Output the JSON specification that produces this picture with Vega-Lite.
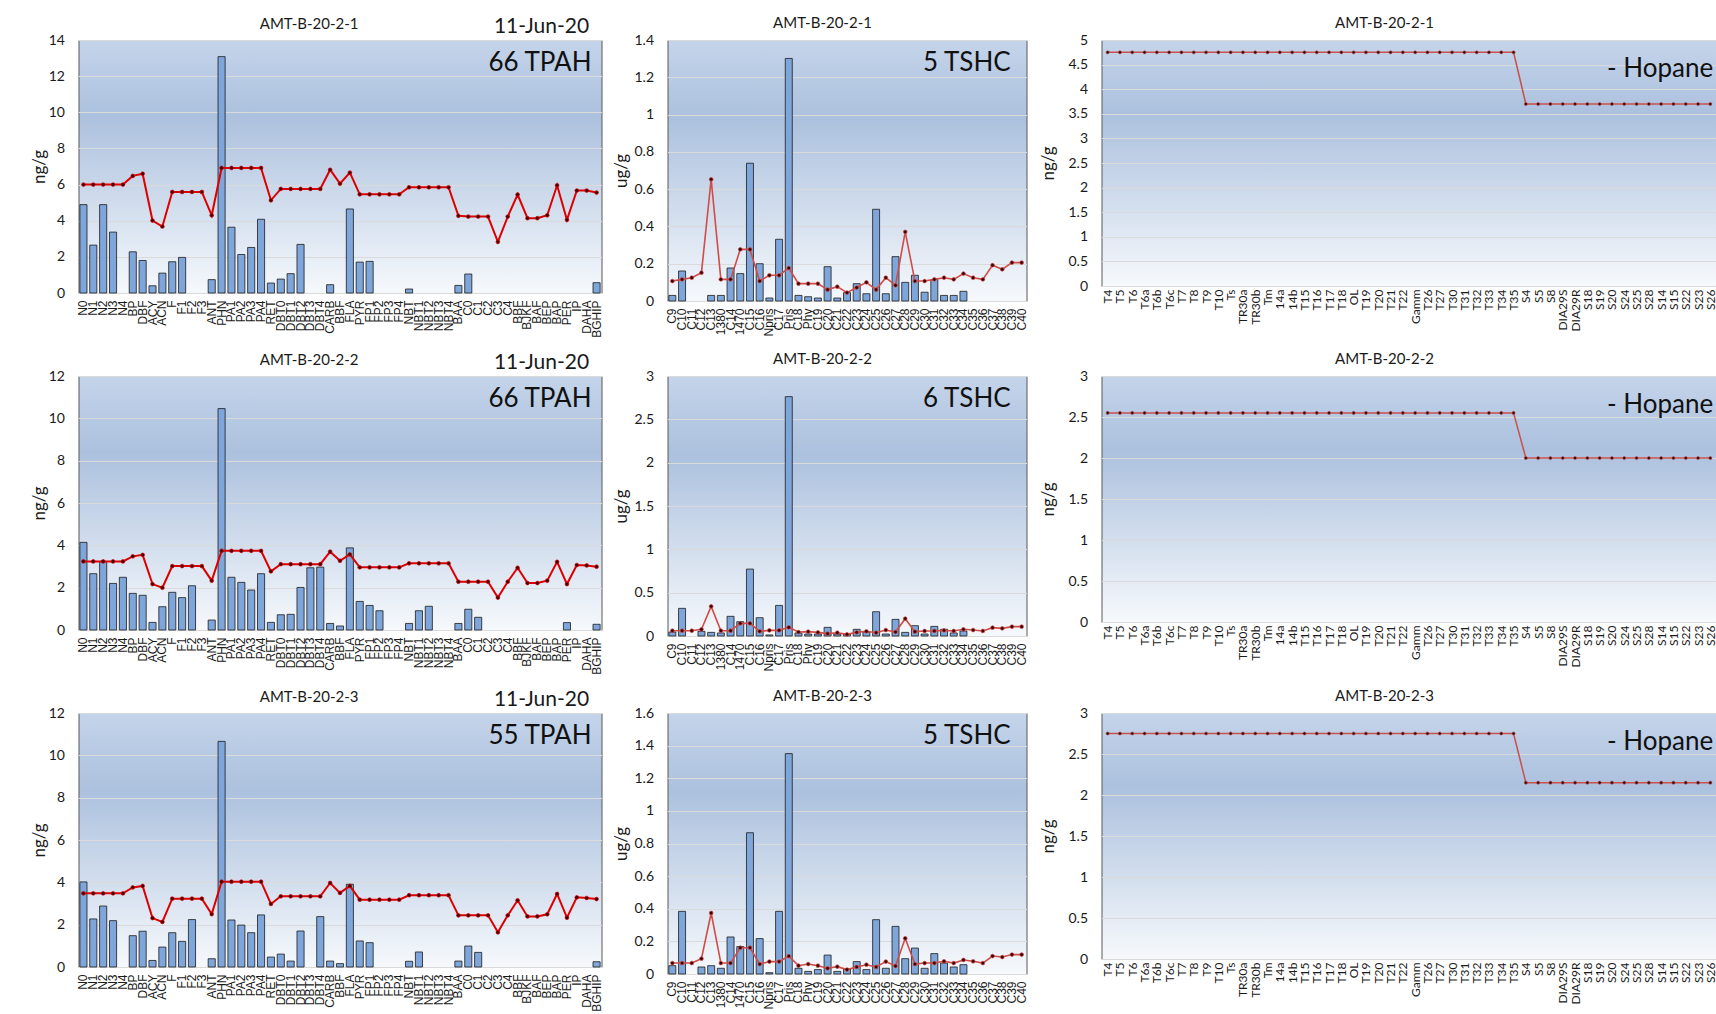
{
  "$schema": "https://vega.github.io/schema/vega-lite/v6.json",
  "background": "white",
  "padding": {"left": 29.5, "top": 15, "right": 0, "bottom": 0},
  "config": {
    "view": {"fill": {"gradient": "linear", "x1": 0, "y1": 0, "x2": 0, "y2": 1, "stops": [{"offset": 0, "color": "#c4d4ea"}, {"offset": 0.3, "color": "#acc1de"}, {"offset": 1, "color": "#f6f9fc"}]}, "stroke": "#595959", "strokeWidth": 1},
    "axis": {"domain": false, "ticks": false, "labelColor": "#1a1a1a", "titleColor": "#1a1a1a", "labelOverlap": false, "labelBound": false, "labelFlush": false, "gridColor": "#dadada"},
    "axisY": {"labelFont": "Lato", "labelFontSize": 14, "labelPadding": 14, "titleFont": "Lato", "titleFontSize": 17, "titleFontWeight": "normal", "grid": true, "format": "~g", "labelOverlap": false},
    "axisX": {"labelAngle": -90, "labelFont": "Liberation Sans", "labelFontSize": 12, "labelPadding": 7, "grid": false, "labelOverlap": false},
    "title": {"font": "Lato", "fontSize": 15, "fontWeight": "normal", "color": "#1a1a1a", "offset": 1.8, "anchor": "middle", "baseline": "alphabetic", "dx": -24.5}
  },
  "datasets": {
    "pah": [
      {"cat": "N0", "b1": 4.89, "l1": 6.0, "b2": 4.14, "l2": 3.24, "b3": 4.02, "l3": 3.48},
      {"cat": "N1", "b1": 2.65, "l1": 6.0, "b2": 2.66, "l2": 3.24, "b3": 2.27, "l3": 3.48},
      {"cat": "N2", "b1": 4.89, "l1": 6.0, "b2": 3.24, "l2": 3.24, "b3": 2.88, "l3": 3.48},
      {"cat": "N3", "b1": 3.37, "l1": 6.0, "b2": 2.2, "l2": 3.24, "b3": 2.19, "l3": 3.48},
      {"cat": "N4", "l1": 6.0, "b2": 2.49, "l2": 3.24, "l3": 3.48},
      {"cat": "BP", "b1": 2.28, "l1": 6.48, "b2": 1.73, "l2": 3.48, "b3": 1.48, "l3": 3.76},
      {"cat": "DBF", "b1": 1.8, "l1": 6.6, "b2": 1.64, "l2": 3.55, "b3": 1.69, "l3": 3.83},
      {"cat": "ACY", "b1": 0.4, "l1": 4.01, "b2": 0.36, "l2": 2.17, "b3": 0.31, "l3": 2.31},
      {"cat": "ACN", "b1": 1.1, "l1": 3.68, "b2": 1.1, "l2": 2.0, "b3": 0.94, "l3": 2.13},
      {"cat": "F", "b1": 1.73, "l1": 5.59, "b2": 1.78, "l2": 3.02, "b3": 1.62, "l3": 3.23},
      {"cat": "F1", "b1": 1.97, "l1": 5.59, "b2": 1.53, "l2": 3.02, "b3": 1.21, "l3": 3.23},
      {"cat": "F2", "l1": 5.59, "b2": 2.09, "l2": 3.02, "b3": 2.24, "l3": 3.23},
      {"cat": "F3", "l1": 5.59, "l2": 3.02, "l3": 3.23},
      {"cat": "ANT", "b1": 0.74, "l1": 4.3, "b2": 0.47, "l2": 2.33, "b3": 0.39, "l3": 2.5},
      {"cat": "PHN", "b1": 13.08, "l1": 6.92, "b2": 10.46, "l2": 3.74, "b3": 10.66, "l3": 4.03},
      {"cat": "PA1", "b1": 3.64, "l1": 6.92, "b2": 2.49, "l2": 3.74, "b3": 2.22, "l3": 4.03},
      {"cat": "PA2", "b1": 2.13, "l1": 6.92, "b2": 2.25, "l2": 3.74, "b3": 1.98, "l3": 4.03},
      {"cat": "PA3", "b1": 2.52, "l1": 6.92, "b2": 1.89, "l2": 3.74, "b3": 1.62, "l3": 4.03},
      {"cat": "PA4", "b1": 4.08, "l1": 6.92, "b2": 2.66, "l2": 3.74, "b3": 2.46, "l3": 4.03},
      {"cat": "RET", "b1": 0.55, "l1": 5.13, "b2": 0.36, "l2": 2.77, "b3": 0.47, "l3": 2.98},
      {"cat": "DBT0", "b1": 0.77, "l1": 5.76, "b2": 0.72, "l2": 3.11, "b3": 0.61, "l3": 3.34},
      {"cat": "DBT1", "b1": 1.07, "l1": 5.76, "b2": 0.74, "l2": 3.11, "b3": 0.28, "l3": 3.34},
      {"cat": "DBT2", "b1": 2.69, "l1": 5.76, "b2": 2.01, "l2": 3.11, "b3": 1.7, "l3": 3.34},
      {"cat": "DBT3", "l1": 5.76, "b2": 2.94, "l2": 3.11, "l3": 3.34},
      {"cat": "DBT4", "l1": 5.76, "b2": 2.97, "l2": 3.11, "b3": 2.38, "l3": 3.34},
      {"cat": "CARB", "b1": 0.46, "l1": 6.82, "b2": 0.31, "l2": 3.7, "b3": 0.28, "l3": 3.97},
      {"cat": "BBF", "l1": 6.05, "b2": 0.19, "l2": 3.27, "b3": 0.16, "l3": 3.5},
      {"cat": "FLA", "b1": 4.65, "l1": 6.66, "b2": 3.88, "l2": 3.57, "b3": 3.91, "l3": 3.83},
      {"cat": "PYR", "b1": 1.71, "l1": 5.46, "b2": 1.35, "l2": 2.96, "b3": 1.23, "l3": 3.18},
      {"cat": "FP1", "b1": 1.75, "l1": 5.46, "b2": 1.16, "l2": 2.96, "b3": 1.15, "l3": 3.18},
      {"cat": "FP2", "l1": 5.46, "b2": 0.91, "l2": 2.96, "l3": 3.18},
      {"cat": "FP3", "l1": 5.46, "l2": 2.96, "l3": 3.18},
      {"cat": "FP4", "l1": 5.46, "l2": 2.96, "l3": 3.18},
      {"cat": "NBT", "b1": 0.22, "l1": 5.85, "b2": 0.31, "l2": 3.15, "b3": 0.27, "l3": 3.39},
      {"cat": "NBT1", "l1": 5.85, "b2": 0.91, "l2": 3.15, "b3": 0.71, "l3": 3.39},
      {"cat": "NBT2", "l1": 5.85, "b2": 1.12, "l2": 3.15, "l3": 3.39},
      {"cat": "NBT3", "l1": 5.85, "l2": 3.15, "l3": 3.39},
      {"cat": "NBT4", "l1": 5.85, "l2": 3.15, "l3": 3.39},
      {"cat": "BAA", "b1": 0.42, "l1": 4.27, "b2": 0.31, "l2": 2.28, "b3": 0.28, "l3": 2.44},
      {"cat": "C0", "b1": 1.05, "l1": 4.23, "b2": 0.98, "l2": 2.28, "b3": 0.99, "l3": 2.44},
      {"cat": "C1", "l1": 4.23, "b2": 0.6, "l2": 2.28, "b3": 0.69, "l3": 2.44},
      {"cat": "C2", "l1": 4.23, "l2": 2.28, "l3": 2.44},
      {"cat": "C3", "l1": 2.83, "l2": 1.53, "l3": 1.64},
      {"cat": "C4", "l1": 4.23, "l2": 2.28, "l3": 2.44},
      {"cat": "BBF ", "l1": 5.45, "l2": 2.94, "l3": 3.15},
      {"cat": "BJKF", "l1": 4.14, "l2": 2.22, "l3": 2.39},
      {"cat": "BAF", "l1": 4.14, "l2": 2.22, "l3": 2.39},
      {"cat": "BEP", "l1": 4.3, "l2": 2.33, "l3": 2.49},
      {"cat": "BAP", "l1": 5.96, "l2": 3.22, "l3": 3.45},
      {"cat": "PER", "l1": 4.05, "b2": 0.35, "l2": 2.17, "l3": 2.33},
      {"cat": "IP", "l1": 5.67, "l2": 3.07, "l3": 3.29},
      {"cat": "DAHA", "l1": 5.67, "l2": 3.05, "l3": 3.26},
      {"cat": "BGHIP", "b1": 0.57, "l1": 5.56, "b2": 0.27, "l2": 2.99, "b3": 0.25, "l3": 3.21}
    ],
    "shc": [
      {"cat": "C9", "b1": 0.03, "l1": 0.107, "b2": 0.046, "l2": 0.061, "b3": 0.051, "l3": 0.067},
      {"cat": "C10", "b1": 0.161, "l1": 0.116, "b2": 0.319, "l2": 0.061, "b3": 0.384, "l3": 0.067},
      {"cat": "C11", "l1": 0.125, "l2": 0.061, "l3": 0.067},
      {"cat": "C12", "l1": 0.152, "b2": 0.054, "l2": 0.077, "b3": 0.043, "l3": 0.094},
      {"cat": "C13", "b1": 0.03, "l1": 0.653, "b2": 0.042, "l2": 0.342, "b3": 0.051, "l3": 0.374},
      {"cat": "1380", "b1": 0.03, "l1": 0.116, "b2": 0.035, "l2": 0.061, "b3": 0.035, "l3": 0.067},
      {"cat": "C14", "b1": 0.177, "l1": 0.116, "b2": 0.227, "l2": 0.061, "b3": 0.227, "l3": 0.067},
      {"cat": "1470", "b1": 0.147, "l1": 0.277, "b2": 0.165, "l2": 0.146, "b3": 0.168, "l3": 0.161},
      {"cat": "C15", "b1": 0.739, "l1": 0.277, "b2": 0.772, "l2": 0.146, "b3": 0.866, "l3": 0.161},
      {"cat": "C16", "b1": 0.2, "l1": 0.107, "b2": 0.211, "l2": 0.054, "b3": 0.217, "l3": 0.061},
      {"cat": "Npris", "b1": 0.016, "l1": 0.138, "b2": 0.012, "l2": 0.065, "b3": 0.008, "l3": 0.076},
      {"cat": "C17", "b1": 0.331, "l1": 0.138, "b2": 0.353, "l2": 0.065, "b3": 0.384, "l3": 0.076},
      {"cat": "Pris", "b1": 1.301, "l1": 0.177, "b2": 2.762, "l2": 0.1, "b3": 1.351, "l3": 0.11},
      {"cat": "C18", "b1": 0.03, "l1": 0.093, "b2": 0.035, "l2": 0.046, "b3": 0.035, "l3": 0.051},
      {"cat": "Phy", "b1": 0.023, "l1": 0.093, "b2": 0.023, "l2": 0.05, "b3": 0.016, "l3": 0.061},
      {"cat": "C19", "b1": 0.016, "l1": 0.093, "b2": 0.023, "l2": 0.042, "b3": 0.027, "l3": 0.051},
      {"cat": "C20", "b1": 0.184, "l1": 0.061, "b2": 0.1, "l2": 0.027, "b3": 0.116, "l3": 0.035},
      {"cat": "C21", "b1": 0.016, "l1": 0.077, "b2": 0.023, "l2": 0.038, "b3": 0.016, "l3": 0.045},
      {"cat": "C22", "b1": 0.045, "l1": 0.045, "b2": 0.023, "l2": 0.019, "b3": 0.031, "l3": 0.027},
      {"cat": "C23", "b1": 0.093, "l1": 0.072, "b2": 0.077, "l2": 0.042, "b3": 0.076, "l3": 0.043},
      {"cat": "C24", "b1": 0.039, "l1": 0.1, "b2": 0.046, "l2": 0.054, "b3": 0.027, "l3": 0.057},
      {"cat": "C25", "b1": 0.492, "l1": 0.061, "b2": 0.28, "l2": 0.038, "b3": 0.333, "l3": 0.043},
      {"cat": "C26", "b1": 0.039, "l1": 0.125, "b2": 0.023, "l2": 0.069, "b3": 0.035, "l3": 0.076},
      {"cat": "C27", "b1": 0.238, "l1": 0.084, "b2": 0.192, "l2": 0.046, "b3": 0.292, "l3": 0.049},
      {"cat": "C28", "b1": 0.1, "l1": 0.371, "b2": 0.042, "l2": 0.2, "b3": 0.094, "l3": 0.219},
      {"cat": "C29", "b1": 0.138, "l1": 0.107, "b2": 0.119, "l2": 0.05, "b3": 0.159, "l3": 0.061},
      {"cat": "C30", "b1": 0.047, "l1": 0.107, "b2": 0.023, "l2": 0.058, "b3": 0.035, "l3": 0.067},
      {"cat": "C31", "b1": 0.115, "l1": 0.116, "b2": 0.111, "l2": 0.058, "b3": 0.125, "l3": 0.067},
      {"cat": "C32", "b1": 0.03, "l1": 0.125, "b2": 0.077, "l2": 0.065, "b3": 0.067, "l3": 0.078},
      {"cat": "C33", "b1": 0.03, "l1": 0.116, "b2": 0.035, "l2": 0.058, "b3": 0.043, "l3": 0.067},
      {"cat": "C34", "b1": 0.052, "l1": 0.147, "b2": 0.058, "l2": 0.077, "b3": 0.057, "l3": 0.086},
      {"cat": "C35", "l1": 0.125, "l2": 0.069, "l3": 0.078},
      {"cat": "C36", "l1": 0.116, "l2": 0.058, "l3": 0.067},
      {"cat": "C37", "l1": 0.192, "l2": 0.096, "l3": 0.11},
      {"cat": "C38", "l1": 0.17, "l2": 0.088, "l3": 0.104},
      {"cat": "C39", "l1": 0.206, "l2": 0.108, "l3": 0.119},
      {"cat": "C40", "l1": 0.206, "l2": 0.108, "l3": 0.119}
    ],
    "hop": [
      {"cat": "T4", "l1": 4.75, "l2": 2.55, "l3": 2.75},
      {"cat": "T5", "l1": 4.75, "l2": 2.55, "l3": 2.75},
      {"cat": "T6", "l1": 4.75, "l2": 2.55, "l3": 2.75},
      {"cat": "T6a", "l1": 4.75, "l2": 2.55, "l3": 2.75},
      {"cat": "T6b", "l1": 4.75, "l2": 2.55, "l3": 2.75},
      {"cat": "T6c", "l1": 4.75, "l2": 2.55, "l3": 2.75},
      {"cat": "T7", "l1": 4.75, "l2": 2.55, "l3": 2.75},
      {"cat": "T8", "l1": 4.75, "l2": 2.55, "l3": 2.75},
      {"cat": "T9", "l1": 4.75, "l2": 2.55, "l3": 2.75},
      {"cat": "T10", "l1": 4.75, "l2": 2.55, "l3": 2.75},
      {"cat": "Ts", "l1": 4.75, "l2": 2.55, "l3": 2.75},
      {"cat": "TR30a", "l1": 4.75, "l2": 2.55, "l3": 2.75},
      {"cat": "TR30b", "l1": 4.75, "l2": 2.55, "l3": 2.75},
      {"cat": "Tm", "l1": 4.75, "l2": 2.55, "l3": 2.75},
      {"cat": "14a", "l1": 4.75, "l2": 2.55, "l3": 2.75},
      {"cat": "14b", "l1": 4.75, "l2": 2.55, "l3": 2.75},
      {"cat": "T15", "l1": 4.75, "l2": 2.55, "l3": 2.75},
      {"cat": "T16", "l1": 4.75, "l2": 2.55, "l3": 2.75},
      {"cat": "T17", "l1": 4.75, "l2": 2.55, "l3": 2.75},
      {"cat": "T18", "l1": 4.75, "l2": 2.55, "l3": 2.75},
      {"cat": "OL", "l1": 4.75, "l2": 2.55, "l3": 2.75},
      {"cat": "T19", "l1": 4.75, "l2": 2.55, "l3": 2.75},
      {"cat": "T20", "l1": 4.75, "l2": 2.55, "l3": 2.75},
      {"cat": "T21", "l1": 4.75, "l2": 2.55, "l3": 2.75},
      {"cat": "T22", "l1": 4.75, "l2": 2.55, "l3": 2.75},
      {"cat": "Gamm", "l1": 4.75, "l2": 2.55, "l3": 2.75},
      {"cat": "T26", "l1": 4.75, "l2": 2.55, "l3": 2.75},
      {"cat": "T27", "l1": 4.75, "l2": 2.55, "l3": 2.75},
      {"cat": "T30", "l1": 4.75, "l2": 2.55, "l3": 2.75},
      {"cat": "T31", "l1": 4.75, "l2": 2.55, "l3": 2.75},
      {"cat": "T32", "l1": 4.75, "l2": 2.55, "l3": 2.75},
      {"cat": "T33", "l1": 4.75, "l2": 2.55, "l3": 2.75},
      {"cat": "T34", "l1": 4.75, "l2": 2.55, "l3": 2.75},
      {"cat": "T35", "l1": 4.75, "l2": 2.55, "l3": 2.75},
      {"cat": "S4", "l1": 3.7, "l2": 2.0, "l3": 2.15},
      {"cat": "S5", "l1": 3.7, "l2": 2.0, "l3": 2.15},
      {"cat": "S8", "l1": 3.7, "l2": 2.0, "l3": 2.15},
      {"cat": "DIA29S", "l1": 3.7, "l2": 2.0, "l3": 2.15},
      {"cat": "DIA29R", "l1": 3.7, "l2": 2.0, "l3": 2.15},
      {"cat": "S18", "l1": 3.7, "l2": 2.0, "l3": 2.15},
      {"cat": "S19", "l1": 3.7, "l2": 2.0, "l3": 2.15},
      {"cat": "S20", "l1": 3.7, "l2": 2.0, "l3": 2.15},
      {"cat": "S24", "l1": 3.7, "l2": 2.0, "l3": 2.15},
      {"cat": "S25", "l1": 3.7, "l2": 2.0, "l3": 2.15},
      {"cat": "S28", "l1": 3.7, "l2": 2.0, "l3": 2.15},
      {"cat": "S14", "l1": 3.7, "l2": 2.0, "l3": 2.15},
      {"cat": "S15", "l1": 3.7, "l2": 2.0, "l3": 2.15},
      {"cat": "S22", "l1": 3.7, "l2": 2.0, "l3": 2.15},
      {"cat": "S23", "l1": 3.7, "l2": 2.0, "l3": 2.15},
      {"cat": "S26", "l1": 3.7, "l2": 2.0, "l3": 2.15}
    ]
  },
  "spacing": 13,
  "vconcat": [
    {"spacing": 8, "hconcat": [
      {"title": {"text": "AMT-B-20-2-1", "offset": 0, "dy": 16.6, "dx": -7},
       "vconcat": [{
        "title": {"text": "11-Jun-20", "anchor": "end", "fontSize": 21, "offset": -4.3, "dx": -13},
        "width": 523, "height": 253,
        "data": {"name": "pah"},
        "encoding": {"x": {"field": "cat", "type": "nominal", "title": null, "scale": {"domain": ["N0","N1","N2","N3","N4","BP","DBF","ACY","ACN","F","F1","F2","F3","ANT","PHN","PA1","PA2","PA3","PA4","RET","DBT0","DBT1","DBT2","DBT3","DBT4","CARB","BBF","FLA","PYR","FP1","FP2","FP3","FP4","NBT","NBT1","NBT2","NBT3","NBT4","BAA","C0","C1","C2","C3","C4","BBF ","BJKF","BAF","BEP","BAP","PER","IP","DAHA","BGHIP"], "paddingInner": 0.28, "paddingOuter": 0.14}, "axis": {"labelExpr": "trim(datum.label)"}}},
        "layer": [
          {"mark": {"type": "bar", "fill": "#7ea6da", "stroke": "#1c1c1c", "strokeWidth": 0.8},
           "encoding": {"y": {"field": "b1", "type": "quantitative", "title": "ng/g", "scale": {"domain": [0, 14]}, "axis": {"values": [0, 2, 4, 6, 8, 10, 12, 14], "titlePadding": 0, "labelOverlap": false}}}},
          {"transform": [{"window": [{"op": "row_number", "as": "i"}]}],
           "mark": {"type": "line", "color": "#dd0000", "strokeWidth": 2},
           "encoding": {"y": {"field": "l1", "type": "quantitative", "title": "ng/g", "scale": {"domain": [0, 14]}, "axis": {"values": [0, 2, 4, 6, 8, 10, 12, 14], "titlePadding": 0, "labelOverlap": false}}, "order": {"field": "i", "type": "quantitative"}}},
          {"mark": {"type": "circle", "size": 14, "fill": "#3b0000", "stroke": "#dd0000", "strokeWidth": 0.7, "opacity": 1},
           "encoding": {"y": {"field": "l1", "type": "quantitative", "title": "ng/g", "scale": {"domain": [0, 14]}, "axis": {"values": [0, 2, 4, 6, 8, 10, 12, 14], "titlePadding": 0, "labelOverlap": false}}}},
          {"transform": [{"filter": "datum.cat == 'BGHIP'"}],
           "mark": {"type": "text", "text": "66 TPAH", "font": "Lato", "fontSize": 26, "align": "right", "baseline": "top", "dx": -5, "dy": 10, "color": "#111111"},
           "encoding": {"y": {"datum": 14, "type": "quantitative", "title": "ng/g", "scale": {"domain": [0, 14]}, "axis": {"values": [0, 2, 4, 6, 8, 10, 12, 14], "titlePadding": 0, "labelOverlap": false}}}}
        ]
      }]},
      {"spacing": 10, "hconcat": [
        {
          "title": {"text": "AMT-B-20-2-1"},
          "width": 359, "height": 261,
          "data": {"name": "shc"},
          "encoding": {"x": {"field": "cat", "type": "nominal", "title": null, "scale": {"domain": ["C9","C10","C11","C12","C13","1380","C14","1470","C15","C16","Npris","C17","Pris","C18","Phy","C19","C20","C21","C22","C23","C24","C25","C26","C27","C28","C29","C30","C31","C32","C33","C34","C35","C36","C37","C38","C39","C40"], "paddingInner": 0.28, "paddingOuter": 0.14}}},
          "layer": [
            {"mark": {"type": "bar", "fill": "#7ea6da", "stroke": "#1c1c1c", "strokeWidth": 0.8},
             "encoding": {"y": {"field": "b1", "type": "quantitative", "title": "ug/g", "scale": {"domain": [0, 1.4]}, "axis": {"values": [0, 0.2, 0.4, 0.6, 0.8, 1, 1.2, 1.4], "titlePadding": 3, "labelOverlap": false}}}},
            {"transform": [{"window": [{"op": "row_number", "as": "i"}]}],
             "mark": {"type": "line", "color": "#d24b47", "strokeWidth": 1.6},
             "encoding": {"y": {"field": "l1", "type": "quantitative", "title": "ug/g", "scale": {"domain": [0, 1.4]}, "axis": {"values": [0, 0.2, 0.4, 0.6, 0.8, 1, 1.2, 1.4], "titlePadding": 3, "labelOverlap": false}}, "order": {"field": "i", "type": "quantitative"}}},
            {"mark": {"type": "circle", "size": 14, "fill": "#3b0000", "stroke": "#d24b47", "strokeWidth": 0.7, "opacity": 1},
             "encoding": {"y": {"field": "l1", "type": "quantitative", "title": "ug/g", "scale": {"domain": [0, 1.4]}, "axis": {"values": [0, 0.2, 0.4, 0.6, 0.8, 1, 1.2, 1.4], "titlePadding": 3, "labelOverlap": false}}}},
            {"transform": [{"filter": "datum.cat == 'C40'"}],
             "mark": {"type": "text", "text": "5 TSHC", "font": "Lato", "fontSize": 26, "align": "right", "baseline": "top", "dx": -11, "dy": 10, "color": "#111111"},
             "encoding": {"y": {"datum": 1.4, "type": "quantitative", "title": "ug/g", "scale": {"domain": [0, 1.4]}, "axis": {"values": [0, 0.2, 0.4, 0.6, 0.8, 1, 1.2, 1.4], "titlePadding": 3, "labelOverlap": false}}}}
          ]
        },
        {
          "title": {"text": "AMT-B-20-2-1"},
          "width": 615, "height": 246,
          "data": {"name": "hop"},
          "encoding": {"x": {"field": "cat", "type": "nominal", "title": null, "scale": {"domain": ["T4","T5","T6","T6a","T6b","T6c","T7","T8","T9","T10","Ts","TR30a","TR30b","Tm","14a","14b","T15","T16","T17","T18","OL","T19","T20","T21","T22","Gamm","T26","T27","T30","T31","T32","T33","T34","T35","S4","S5","S8","DIA29S","DIA29R","S18","S19","S20","S24","S25","S28","S14","S15","S22","S23","S26"], "paddingInner": 0.28, "paddingOuter": 0.14}, "axis": {"labelFont": "Lato", "labelFontSize": 12, "labelPadding": 3}}},
          "layer": [
            {"transform": [{"window": [{"op": "row_number", "as": "i"}]}],
             "mark": {"type": "line", "color": "#c9504b", "strokeWidth": 1.5},
             "encoding": {"y": {"field": "l1", "type": "quantitative", "title": "ng/g", "scale": {"domain": [0, 5]}, "axis": {"values": [0, 0.5, 1, 1.5, 2, 2.5, 3, 3.5, 4, 4.5, 5], "titlePadding": 10, "labelOverlap": false}}, "order": {"field": "i", "type": "quantitative"}}},
            {"mark": {"type": "circle", "size": 10, "fill": "#2a0a0a", "stroke": "#c9504b", "strokeWidth": 0.6, "opacity": 1},
             "encoding": {"y": {"field": "l1", "type": "quantitative", "title": "ng/g", "scale": {"domain": [0, 5]}, "axis": {"values": [0, 0.5, 1, 1.5, 2, 2.5, 3, 3.5, 4, 4.5, 5], "titlePadding": 10, "labelOverlap": false}}}},
            {"transform": [{"filter": "datum.cat == 'S20'"}],
             "mark": {"type": "text", "text": "- Hopane", "font": "Lato", "fontSize": 26, "align": "left", "baseline": "top", "dx": -5, "dy": 16, "color": "#111111"},
             "encoding": {"y": {"datum": 5, "type": "quantitative", "title": "ng/g", "scale": {"domain": [0, 5]}, "axis": {"values": [0, 0.5, 1, 1.5, 2, 2.5, 3, 3.5, 4, 4.5, 5], "titlePadding": 10, "labelOverlap": false}}}}
          ]
        }
      ]}
    ]},
    {"spacing": 8, "hconcat": [
      {"title": {"text": "AMT-B-20-2-2", "offset": 0, "dy": 16.6, "dx": -7},
       "vconcat": [{
        "title": {"text": "11-Jun-20", "anchor": "end", "fontSize": 21, "offset": -4.3, "dx": -13},
        "width": 523, "height": 254,
        "data": {"name": "pah"},
        "encoding": {"x": {"field": "cat", "type": "nominal", "title": null, "scale": {"domain": ["N0","N1","N2","N3","N4","BP","DBF","ACY","ACN","F","F1","F2","F3","ANT","PHN","PA1","PA2","PA3","PA4","RET","DBT0","DBT1","DBT2","DBT3","DBT4","CARB","BBF","FLA","PYR","FP1","FP2","FP3","FP4","NBT","NBT1","NBT2","NBT3","NBT4","BAA","C0","C1","C2","C3","C4","BBF ","BJKF","BAF","BEP","BAP","PER","IP","DAHA","BGHIP"], "paddingInner": 0.28, "paddingOuter": 0.14}, "axis": {"labelExpr": "trim(datum.label)"}}},
        "layer": [
          {"mark": {"type": "bar", "fill": "#7ea6da", "stroke": "#1c1c1c", "strokeWidth": 0.8},
           "encoding": {"y": {"field": "b2", "type": "quantitative", "title": "ng/g", "scale": {"domain": [0, 12]}, "axis": {"values": [0, 2, 4, 6, 8, 10, 12], "titlePadding": 0, "labelOverlap": false}}}},
          {"transform": [{"window": [{"op": "row_number", "as": "i"}]}],
           "mark": {"type": "line", "color": "#dd0000", "strokeWidth": 2},
           "encoding": {"y": {"field": "l2", "type": "quantitative", "title": "ng/g", "scale": {"domain": [0, 12]}, "axis": {"values": [0, 2, 4, 6, 8, 10, 12], "titlePadding": 0, "labelOverlap": false}}, "order": {"field": "i", "type": "quantitative"}}},
          {"mark": {"type": "circle", "size": 14, "fill": "#3b0000", "stroke": "#dd0000", "strokeWidth": 0.7, "opacity": 1},
           "encoding": {"y": {"field": "l2", "type": "quantitative", "title": "ng/g", "scale": {"domain": [0, 12]}, "axis": {"values": [0, 2, 4, 6, 8, 10, 12], "titlePadding": 0, "labelOverlap": false}}}},
          {"transform": [{"filter": "datum.cat == 'BGHIP'"}],
           "mark": {"type": "text", "text": "66 TPAH", "font": "Lato", "fontSize": 26, "align": "right", "baseline": "top", "dx": -5, "dy": 10, "color": "#111111"},
           "encoding": {"y": {"datum": 12, "type": "quantitative", "title": "ng/g", "scale": {"domain": [0, 12]}, "axis": {"values": [0, 2, 4, 6, 8, 10, 12], "titlePadding": 0, "labelOverlap": false}}}}
        ]
      }]},
      {"spacing": 10, "hconcat": [
        {
          "title": {"text": "AMT-B-20-2-2"},
          "width": 359, "height": 260,
          "data": {"name": "shc"},
          "encoding": {"x": {"field": "cat", "type": "nominal", "title": null, "scale": {"domain": ["C9","C10","C11","C12","C13","1380","C14","1470","C15","C16","Npris","C17","Pris","C18","Phy","C19","C20","C21","C22","C23","C24","C25","C26","C27","C28","C29","C30","C31","C32","C33","C34","C35","C36","C37","C38","C39","C40"], "paddingInner": 0.28, "paddingOuter": 0.14}}},
          "layer": [
            {"mark": {"type": "bar", "fill": "#7ea6da", "stroke": "#1c1c1c", "strokeWidth": 0.8},
             "encoding": {"y": {"field": "b2", "type": "quantitative", "title": "ug/g", "scale": {"domain": [0, 3]}, "axis": {"values": [0, 0.5, 1, 1.5, 2, 2.5, 3], "titlePadding": 3, "labelOverlap": false}}}},
            {"transform": [{"window": [{"op": "row_number", "as": "i"}]}],
             "mark": {"type": "line", "color": "#d24b47", "strokeWidth": 1.6},
             "encoding": {"y": {"field": "l2", "type": "quantitative", "title": "ug/g", "scale": {"domain": [0, 3]}, "axis": {"values": [0, 0.5, 1, 1.5, 2, 2.5, 3], "titlePadding": 3, "labelOverlap": false}}, "order": {"field": "i", "type": "quantitative"}}},
            {"mark": {"type": "circle", "size": 14, "fill": "#3b0000", "stroke": "#d24b47", "strokeWidth": 0.7, "opacity": 1},
             "encoding": {"y": {"field": "l2", "type": "quantitative", "title": "ug/g", "scale": {"domain": [0, 3]}, "axis": {"values": [0, 0.5, 1, 1.5, 2, 2.5, 3], "titlePadding": 3, "labelOverlap": false}}}},
            {"transform": [{"filter": "datum.cat == 'C40'"}],
             "mark": {"type": "text", "text": "6 TSHC", "font": "Lato", "fontSize": 26, "align": "right", "baseline": "top", "dx": -11, "dy": 10, "color": "#111111"},
             "encoding": {"y": {"datum": 3, "type": "quantitative", "title": "ug/g", "scale": {"domain": [0, 3]}, "axis": {"values": [0, 0.5, 1, 1.5, 2, 2.5, 3], "titlePadding": 3, "labelOverlap": false}}}}
          ]
        },
        {
          "title": {"text": "AMT-B-20-2-2"},
          "width": 615, "height": 246,
          "data": {"name": "hop"},
          "encoding": {"x": {"field": "cat", "type": "nominal", "title": null, "scale": {"domain": ["T4","T5","T6","T6a","T6b","T6c","T7","T8","T9","T10","Ts","TR30a","TR30b","Tm","14a","14b","T15","T16","T17","T18","OL","T19","T20","T21","T22","Gamm","T26","T27","T30","T31","T32","T33","T34","T35","S4","S5","S8","DIA29S","DIA29R","S18","S19","S20","S24","S25","S28","S14","S15","S22","S23","S26"], "paddingInner": 0.28, "paddingOuter": 0.14}, "axis": {"labelFont": "Lato", "labelFontSize": 12, "labelPadding": 3}}},
          "layer": [
            {"transform": [{"window": [{"op": "row_number", "as": "i"}]}],
             "mark": {"type": "line", "color": "#c9504b", "strokeWidth": 1.5},
             "encoding": {"y": {"field": "l2", "type": "quantitative", "title": "ng/g", "scale": {"domain": [0, 3]}, "axis": {"values": [0, 0.5, 1, 1.5, 2, 2.5, 3], "titlePadding": 10, "labelOverlap": false}}, "order": {"field": "i", "type": "quantitative"}}},
            {"mark": {"type": "circle", "size": 10, "fill": "#2a0a0a", "stroke": "#c9504b", "strokeWidth": 0.6, "opacity": 1},
             "encoding": {"y": {"field": "l2", "type": "quantitative", "title": "ng/g", "scale": {"domain": [0, 3]}, "axis": {"values": [0, 0.5, 1, 1.5, 2, 2.5, 3], "titlePadding": 10, "labelOverlap": false}}}},
            {"transform": [{"filter": "datum.cat == 'S20'"}],
             "mark": {"type": "text", "text": "- Hopane", "font": "Lato", "fontSize": 26, "align": "left", "baseline": "top", "dx": -5, "dy": 16, "color": "#111111"},
             "encoding": {"y": {"datum": 3, "type": "quantitative", "title": "ng/g", "scale": {"domain": [0, 3]}, "axis": {"values": [0, 0.5, 1, 1.5, 2, 2.5, 3], "titlePadding": 10, "labelOverlap": false}}}}
          ]
        }
      ]}
    ]},
    {"spacing": 8, "hconcat": [
      {"title": {"text": "AMT-B-20-2-3", "offset": 0, "dy": 16.6, "dx": -7},
       "vconcat": [{
        "title": {"text": "11-Jun-20", "anchor": "end", "fontSize": 21, "offset": -4.3, "dx": -13},
        "width": 523, "height": 254,
        "data": {"name": "pah"},
        "encoding": {"x": {"field": "cat", "type": "nominal", "title": null, "scale": {"domain": ["N0","N1","N2","N3","N4","BP","DBF","ACY","ACN","F","F1","F2","F3","ANT","PHN","PA1","PA2","PA3","PA4","RET","DBT0","DBT1","DBT2","DBT3","DBT4","CARB","BBF","FLA","PYR","FP1","FP2","FP3","FP4","NBT","NBT1","NBT2","NBT3","NBT4","BAA","C0","C1","C2","C3","C4","BBF ","BJKF","BAF","BEP","BAP","PER","IP","DAHA","BGHIP"], "paddingInner": 0.28, "paddingOuter": 0.14}, "axis": {"labelExpr": "trim(datum.label)"}}},
        "layer": [
          {"mark": {"type": "bar", "fill": "#7ea6da", "stroke": "#1c1c1c", "strokeWidth": 0.8},
           "encoding": {"y": {"field": "b3", "type": "quantitative", "title": "ng/g", "scale": {"domain": [0, 12]}, "axis": {"values": [0, 2, 4, 6, 8, 10, 12], "titlePadding": 0, "labelOverlap": false}}}},
          {"transform": [{"window": [{"op": "row_number", "as": "i"}]}],
           "mark": {"type": "line", "color": "#dd0000", "strokeWidth": 2},
           "encoding": {"y": {"field": "l3", "type": "quantitative", "title": "ng/g", "scale": {"domain": [0, 12]}, "axis": {"values": [0, 2, 4, 6, 8, 10, 12], "titlePadding": 0, "labelOverlap": false}}, "order": {"field": "i", "type": "quantitative"}}},
          {"mark": {"type": "circle", "size": 14, "fill": "#3b0000", "stroke": "#dd0000", "strokeWidth": 0.7, "opacity": 1},
           "encoding": {"y": {"field": "l3", "type": "quantitative", "title": "ng/g", "scale": {"domain": [0, 12]}, "axis": {"values": [0, 2, 4, 6, 8, 10, 12], "titlePadding": 0, "labelOverlap": false}}}},
          {"transform": [{"filter": "datum.cat == 'BGHIP'"}],
           "mark": {"type": "text", "text": "55 TPAH", "font": "Lato", "fontSize": 26, "align": "right", "baseline": "top", "dx": -5, "dy": 10, "color": "#111111"},
           "encoding": {"y": {"datum": 12, "type": "quantitative", "title": "ng/g", "scale": {"domain": [0, 12]}, "axis": {"values": [0, 2, 4, 6, 8, 10, 12], "titlePadding": 0, "labelOverlap": false}}}}
        ]
      }]},
      {"spacing": 10, "hconcat": [
        {
          "title": {"text": "AMT-B-20-2-3"},
          "width": 359, "height": 261,
          "data": {"name": "shc"},
          "encoding": {"x": {"field": "cat", "type": "nominal", "title": null, "scale": {"domain": ["C9","C10","C11","C12","C13","1380","C14","1470","C15","C16","Npris","C17","Pris","C18","Phy","C19","C20","C21","C22","C23","C24","C25","C26","C27","C28","C29","C30","C31","C32","C33","C34","C35","C36","C37","C38","C39","C40"], "paddingInner": 0.28, "paddingOuter": 0.14}}},
          "layer": [
            {"mark": {"type": "bar", "fill": "#7ea6da", "stroke": "#1c1c1c", "strokeWidth": 0.8},
             "encoding": {"y": {"field": "b3", "type": "quantitative", "title": "ug/g", "scale": {"domain": [0, 1.6]}, "axis": {"values": [0, 0.2, 0.4, 0.6, 0.8, 1, 1.2, 1.4, 1.6], "titlePadding": 3, "labelOverlap": false}}}},
            {"transform": [{"window": [{"op": "row_number", "as": "i"}]}],
             "mark": {"type": "line", "color": "#d24b47", "strokeWidth": 1.6},
             "encoding": {"y": {"field": "l3", "type": "quantitative", "title": "ug/g", "scale": {"domain": [0, 1.6]}, "axis": {"values": [0, 0.2, 0.4, 0.6, 0.8, 1, 1.2, 1.4, 1.6], "titlePadding": 3, "labelOverlap": false}}, "order": {"field": "i", "type": "quantitative"}}},
            {"mark": {"type": "circle", "size": 14, "fill": "#3b0000", "stroke": "#d24b47", "strokeWidth": 0.7, "opacity": 1},
             "encoding": {"y": {"field": "l3", "type": "quantitative", "title": "ug/g", "scale": {"domain": [0, 1.6]}, "axis": {"values": [0, 0.2, 0.4, 0.6, 0.8, 1, 1.2, 1.4, 1.6], "titlePadding": 3, "labelOverlap": false}}}},
            {"transform": [{"filter": "datum.cat == 'C40'"}],
             "mark": {"type": "text", "text": "5 TSHC", "font": "Lato", "fontSize": 26, "align": "right", "baseline": "top", "dx": -11, "dy": 10, "color": "#111111"},
             "encoding": {"y": {"datum": 1.6, "type": "quantitative", "title": "ug/g", "scale": {"domain": [0, 1.6]}, "axis": {"values": [0, 0.2, 0.4, 0.6, 0.8, 1, 1.2, 1.4, 1.6], "titlePadding": 3, "labelOverlap": false}}}}
          ]
        },
        {
          "title": {"text": "AMT-B-20-2-3"},
          "width": 615, "height": 246,
          "data": {"name": "hop"},
          "encoding": {"x": {"field": "cat", "type": "nominal", "title": null, "scale": {"domain": ["T4","T5","T6","T6a","T6b","T6c","T7","T8","T9","T10","Ts","TR30a","TR30b","Tm","14a","14b","T15","T16","T17","T18","OL","T19","T20","T21","T22","Gamm","T26","T27","T30","T31","T32","T33","T34","T35","S4","S5","S8","DIA29S","DIA29R","S18","S19","S20","S24","S25","S28","S14","S15","S22","S23","S26"], "paddingInner": 0.28, "paddingOuter": 0.14}, "axis": {"labelFont": "Lato", "labelFontSize": 12, "labelPadding": 3}}},
          "layer": [
            {"transform": [{"window": [{"op": "row_number", "as": "i"}]}],
             "mark": {"type": "line", "color": "#c9504b", "strokeWidth": 1.5},
             "encoding": {"y": {"field": "l3", "type": "quantitative", "title": "ng/g", "scale": {"domain": [0, 3]}, "axis": {"values": [0, 0.5, 1, 1.5, 2, 2.5, 3], "titlePadding": 10, "labelOverlap": false}}, "order": {"field": "i", "type": "quantitative"}}},
            {"mark": {"type": "circle", "size": 10, "fill": "#2a0a0a", "stroke": "#c9504b", "strokeWidth": 0.6, "opacity": 1},
             "encoding": {"y": {"field": "l3", "type": "quantitative", "title": "ng/g", "scale": {"domain": [0, 3]}, "axis": {"values": [0, 0.5, 1, 1.5, 2, 2.5, 3], "titlePadding": 10, "labelOverlap": false}}}},
            {"transform": [{"filter": "datum.cat == 'S20'"}],
             "mark": {"type": "text", "text": "- Hopane", "font": "Lato", "fontSize": 26, "align": "left", "baseline": "top", "dx": -5, "dy": 16, "color": "#111111"},
             "encoding": {"y": {"datum": 3, "type": "quantitative", "title": "ng/g", "scale": {"domain": [0, 3]}, "axis": {"values": [0, 0.5, 1, 1.5, 2, 2.5, 3], "titlePadding": 10, "labelOverlap": false}}}}
          ]
        }
      ]}
    ]}
  ]
}
